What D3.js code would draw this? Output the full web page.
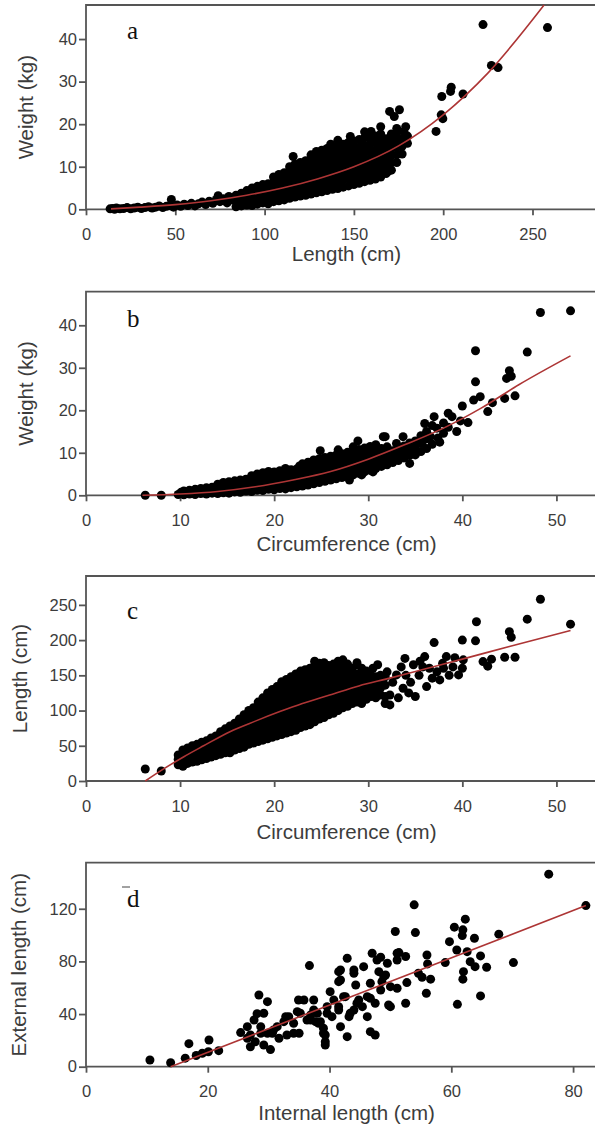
<!DOCTYPE html>
<html>
<head>
<meta charset="utf-8">
<script src="https://cdn.jsdelivr.net/npm/d3@7"></script>
<style>
  body { margin: 0; background: #fff; }
  svg { display: block; }
  text { font-family: "Liberation Sans", Arial, sans-serif; }
</style>
</head>
<body>
<div id="chart"></div>
<script>
// Panel a: length (cm) vs weight (kg)
// dense core, read column by column: [length, [weights...]]
const lengthWeightCols = [
  [84,[0.6,2.0,3.3]],[87,[0.8,2.4,3.8]],[90,[1.0,2.6,4.4]],[93,[0.9,2.3,3.7,5.0]],
  [96,[1.2,2.6,4.0,5.4]],[99,[1.5,2.9,4.3,5.8]],[102,[1.3,2.8,4.4,6.0]],[105,[1.8,3.2,4.8,6.4,7.6]],
  [108,[2.0,3.5,5.0,6.6,8.2]],[111,[2.2,3.7,5.3,6.9,8.6]],[114,[2.6,4.1,5.7,7.3,8.9,10.0]],
  [117,[2.9,4.4,6.0,7.6,9.2,10.6]],[120,[3.1,4.7,6.3,7.9,9.5,11.0]],[123,[3.3,4.9,6.5,8.1,9.7,11.4]],
  [126,[3.6,5.2,6.8,8.4,10.0,11.7,12.8]],[129,[3.9,5.5,7.1,8.7,10.3,11.9,13.6]],
  [132,[4.1,5.7,7.4,9.0,10.6,12.3,13.9]],[135,[4.4,6.0,7.7,9.3,11.0,12.6,14.3]],
  [138,[4.7,6.3,8.0,9.6,11.3,13.0,14.6]],[141,[4.9,6.6,8.3,10.0,11.6,13.3,15.0,16.2]],
  [144,[5.2,6.9,8.6,10.3,12.0,13.6,15.3]],[147,[5.5,7.2,8.9,10.6,12.3,14.0,15.7]],
  [150,[5.8,7.5,9.2,10.9,12.6,14.3,16.0]],[153,[6.1,7.8,9.5,11.2,12.9,14.6,16.4]],
  [156,[6.5,8.2,9.9,11.6,13.3,15.0,16.8,18.2]],[159,[6.8,8.5,10.2,11.9,13.6,15.3,17.0]],
  [162,[7.1,8.8,10.5,12.2,13.9,15.6,17.2]],[165,[7.6,9.2,10.9,12.6,14.3,16.0,17.7,19.4]],
  [168,[8.4,10.0,11.7,13.4,15.1,16.6]],[171,[9.2,10.9,12.6,14.3,16.0,17.7]],
  [174,[11.0,12.8,14.5,16.2,17.9,19.0]],[177,[13.0,14.8,16.5]],[180,[15.5,17.2]]
];
// small fish band and outliers
const lengthWeightPoints = [
  [13.5,0.1],[15,0.2],[16,0],[17,0.3],[19,0.1],[21,0.2],[23,0.4],[25,0.1],[27,0.3],[29,0.5],
  [31,0.2],[33,0.4],[35,0.6],[37,0.3],[39,0.5],[41,0.8],[43,0.4],[45,0.7],[47,0.9],[47.8,2.3],
  [49,0.5],[51,1.0],[53,0.7],[55,1.2],[57,0.9],[59,1.4],[61,0.8],[63,1.3],[65,1.7],[67,1.1],
  [69,1.9],[71,1.4],[73,2.3],[74,3.2],[75,1.8],[77,2.5],[79,1.5],[80,3.0],[82,2.2],
  [116,12.4],[137,15.3],[148,17.1],[159.6,18.3],[157.7,8.5],[168.9,8.8],[170,23.0],[172.6,21.8],
  [175.5,23.4],[178,18.3],[179,19.4],
  [196,18.3],[199.8,21.3],[198.9,22.2],[199.2,26.5],[204.5,28.7],[204.1,27.7],[211.1,27.1],[222.3,43.4],
  [227,33.8],[230.7,33.3],[258.4,42.7]
];
const fitLengthWeight = [
  [14,0.1],[30,0.5],[50,1.1],[70,2.0],[90,3.3],[110,5.0],[130,7.2],[150,10.0],[175,14.9],[200,22.2],[225,32],[256.5,48]
];

// Panel b: circumference (cm) vs weight (kg)
const circWeightCols = [
  [9.8,[0.2]],[10.1,[0.7]],[10.4,[0.1,1.0]],[11,[0.3,1.2]],[11.6,[0.2,1.4]],[12.2,[0.4,1.6]],[12.8,[0.3,1.8]],
  [13.4,[0.5,1.9]],[14,[0.4,1.7,2.6]],[14.6,[0.6,2.0,3.0]],[15.2,[0.5,1.9,3.2]],[15.8,[0.8,2.2,3.4]],
  [16.4,[0.7,2.1,3.6]],[17,[1.0,2.4,3.8]],[17.6,[0.9,2.3,3.7,4.6]],[18.2,[1.2,2.6,4.0,5.0]],
  [18.8,[1.1,2.5,3.9,5.3]],[19.4,[1.4,2.8,4.2,5.6]],[20,[1.3,2.7,4.1,5.5]],[20.6,[1.6,3.0,4.4,5.8]],
  [21.2,[1.5,2.9,4.3,5.7,6.3]],[21.8,[1.8,3.2,4.6,6.0]],[22.4,[2.0,3.4,4.8,6.2]],[22.7,[6.9]],
  [23,[2.2,3.6,5.0,6.4,7.4]],[23.6,[2.4,3.8,5.2,6.6,7.8]],[24.2,[2.7,4.1,5.5,6.9,8.3]],
  [24.8,[3.0,4.4,5.8,7.2,8.6]],[25.4,[3.3,4.7,6.1,7.5,8.9]],[26,[3.6,5.0,6.4,7.8,9.2]],
  [26.6,[3.9,5.3,6.7,8.1,9.5]],[27.2,[4.2,5.6,7.0,8.4,9.8]],[27.8,[4.5,5.9,7.3,8.7,10.1]],
  [28.4,[4.8,6.2,7.6,9.0,10.4,11.4]],[29,[5.2,6.6,8.0,9.4,10.8]],[29.6,[5.5,6.9,8.3,9.7,11.1]],
  [30.2,[5.9,7.3,8.7,10.1,11.5]],[30.8,[6.3,7.7,9.1,10.5,11.9]],[31.4,[6.8,8.2,9.6,11.0]],
  [32,[7.2,8.6,10.0,11.4]],[32.6,[7.7,9.1,10.5]],[33.2,[8.2,9.6,11.0]],[33.8,[8.8,10.2,11.6]],
  [34.4,[7.5,9.4,10.8,12.3]],[35,[9.5,11.2,12.8]],[35.6,[10.3,14.0]],[36.2,[11.0,13.3,15.0]],
  [36.8,[12.0,16.4]],[37.4,[13.5]]
];
const circWeightPoints = [
  [6.3,0],[8,0],[25.3,3.5],[27.3,4.4],[28,3.6],[29.3,4.8],[30.5,5.5],
  [24.9,10.5],[26.8,10.7],[28.9,12.8],[31.6,13.8],[31.8,13.8],[33,12.2],[33.7,13.8],
  [35.7,12.2],[36,16.9],[36.6,13.8],[37,18.5],[37.3,15.8],[37.6,12.5],[38,14.6],[38,17.0],
  [38.5,19.3],[38.5,16.0],[38.9,18.5],[39.4,15.0],[39.8,17.5],[40,21],[40.6,17.1],[41.2,22.4],
  [41.4,34],[41.4,26.7],[41.9,23.2],[42.7,19.7],[43.2,21.8],[44.5,22.8],[44.7,27.5],[45,29.3],
  [45.2,28],[45.6,23.4],[46.9,33.7],[48.3,43],[51.5,43.4]
];
const fitCircWeight = [
  [6,0],[10,0.3],[14,0.9],[18,2.0],[22,3.6],[26,5.6],[30,8.5],[34,12],[38,15.8],[42,20.5],[46,26],[51.5,32.8]
];

// Panel c: circumference (cm) vs length (cm)
const circLengthCols = [
  [9.8,[23,31,37]],[10.3,[21,29,37,44]],[10.8,[25,33,41,47]],[11.3,[27,35,43,50]],[11.8,[28,36,44,52]],
  [12.3,[30,38,46,55]],[12.8,[32,40,48,57]],[13.3,[34,42,51,61]],[13.8,[36,45,54,64]],
  [14.3,[38,47,56,65,70]],[14.8,[40,49,58,67,74]],[15.3,[40,50,60,70,78]],[15.8,[44,53,62,72,82]],
  [16.3,[46,55,64,73,82,88]],[16.8,[48,57,66,76,86,94]],[17.3,[52,61,70,80,90,100]],
  [17.8,[54,63,73,83,93,104]],[18.3,[56,65,75,85,95,105,112]],[18.8,[58,67,77,87,97,108,118]],
  [19.3,[60,70,80,90,100,110,120,125]],[19.8,[62,72,82,92,102,112,122,130]],
  [20.3,[64,74,84,94,104,114,124,134]],[20.8,[66,76,86,96,106,116,126,136,141]],
  [21.3,[68,78,88,98,108,118,128,138,144]],[21.8,[70,80,90,100,110,120,130,140,148]],
  [22.3,[72,82,92,102,112,122,132,142,152]],[22.8,[76,86,96,106,116,126,136,146,156]],
  [23.3,[78,88,98,108,118,128,138,148,158]],[23.8,[80,90,100,110,120,130,140,150,160]],
  [24.3,[84,94,104,114,124,134,144,154,164,170]],[24.8,[88,98,108,118,128,138,148,158,167]],
  [25.3,[90,100,110,120,130,140,150,160,168]],[25.8,[94,104,114,124,134,144,154,164]],
  [26.3,[96,106,116,126,136,146,156,166]],[26.8,[100,110,120,130,140,150,160,170]],
  [27.3,[104,114,124,134,144,154,164,172]],[27.8,[106,116,126,136,146,156,166]],
  [28.3,[110,120,130,140,150,160]],[28.8,[112,122,132,142,152,165,168]],
  [29.3,[110,120,130,140,150,160]],[29.8,[116,126,136,146,156]],[30.3,[120,130,140,150]],
  [30.8,[118,128,138,148]],[31.3,[122,132,143,150]],[31.8,[110,120,136,148]],[32.3,[108,122]]
];
const circLengthPoints = [
  [6.3,17],[8,14.2],
  [30.5,160],[31,165],[31.5,138],[32,155],[32.6,140],[33.2,118],[34,150],[34.3,125],[34.5,140],[34.8,165],
  [35.4,150],[35.5,170],[36.5,160],[36.8,146],[38,160],[38.6,150],[39,162],[39.2,175],
  [33,150.6],[33.5,162],[33.7,131.7],[33.9,174],[35,120],[35.8,162],[36,176.6],[36.2,134],[37,196.5],[37.3,155],
  [37.6,143.5],[37.9,167],[38.3,176.6],[39.6,150.6],[40,160],[40,200],[40.1,172],[41.4,199],[41.5,226],[42.2,169.5],
  [42.7,163],[43.1,173],[44.5,175.7],[45,212],[45.2,204],[45.6,175.7],[46.9,229.7],[48.3,258],[51.5,222.6]
];
const fitCircLength = [
  [6.3,0],[8,15],[10.4,34.5],[12.5,50],[15.3,70],[18,85],[20.6,98.5],[23,110],[25.9,122],[29,135],
  [32.3,146],[36,159],[40,173],[45,191],[51.5,213.5]
];

// Panel d: internal length (cm) vs external length (cm)
const internalExternal = [
  [10.5,5.1],[13.9,3],[16.3,6.5],[16.9,17.5],[18.1,8.5],[19.1,10.2],[20.1,11.4],[20.2,20.3],[21.8,12.2],
  [25.4,25.9],[26.5,21.6],[26.5,30.4],[27,15.2],[27,24.1],[27.6,35.5],[27.8,19],[28.1,40.3],[28.4,54.5],[28.7,25.4],
  [28.7,30.4],[29.2,40.6],[29.2,16.5],[29.8,49.4],[29.8,25.4],[30.3,13],[30.6,25.4],[30.8,27.9],[31.4,30.4],[31.7,21.6],
  [32.5,34.2],[32.8,38],[33,24.1],[33.3,38],[34.1,33],[34.1,25.4],[34.7,41.8],[34.9,50.7],[35,25.4],[35.2,40.6],
  [35.8,50.7],[36.3,35.5],[36.7,76.8],[36.9,39.3],[36.9,35.5],[37.4,50.7],[37.4,43.1],[37.7,34.2],[38,40.6],[38.2,33],
  [38.5,34.2],[39,29.2],[39,25.4],[39.3,24.1],[39.3,19],[39.3,16.5],[39.6,45.6],[39.6,40.6],[40.1,57],[40.4,38],
  [40.7,50.7],[41.5,45.6],[41.5,43.1],[41.5,64.6],[41.5,72.2],[41.8,73.5],[41.8,65.9],[41.8,30.4],[42.3,53.2],[42.6,53.2],
  [42.9,82.4],[42.9,22.8],[43.2,38],[43.4,40.6],[44,71],[44,73.5],[44,43.1],[44.3,62.1],[44.5,48.2],[44.8,50.7],
  [45.4,45.6],[45.6,76],[46.2,53.2],[46.2,38],[46.7,26.6],[46.7,63.4],[46.7,52],[47,86.2],[47.5,24.1],[47.5,48.2],
  [47.8,81.1],[48.1,72.2],[48.4,58.3],[48.4,83.2],[48.6,64.6],[48.9,68.4],[49.2,69.7],[49.5,78.6],[49.7,46.9],[50,45.6],
  [50,60.8],[50.8,102.7],[51.1,86.2],[51.1,81.1],[51.1,59.6],[51.4,86.7],[52.5,48.2],[52.5,83.7],[52.7,63.9],[53.9,123],
  [54.1,101.9],[54.6,71],[55.2,68],[55.9,55.8],[56,84.9],[56.1,78.1],[56.6,66.5],[59,79.1],[59.7,95],[60.5,106],
  [60.9,88.7],[61,47.4],[61.8,99.6],[61.9,104],[61.9,66.5],[62,72.2],[62.3,112.1],[62.6,87.4],[63.1,79.8],[63.8,97.6],
  [63.9,76],[64.8,84.2],[64.8,53.8],[65.8,75.6],[67.8,100.7],[70.2,79.1],[76,146.3],[82.1,122.4]
];
const fitInternalExternal = [[13.9,0],[82.1,122.4]];

// tick values
const ticksLength = [0, 50, 100, 150, 200, 250];
const ticksWeight = [0, 10, 20, 30, 40];
const ticksCirc = [0, 10, 20, 30, 40, 50];
const ticksLengthY = [0, 50, 100, 150, 200, 250];
const ticksInternal = [0, 20, 40, 60, 80];
const ticksExternal = [0, 40, 80, 120];

const panelLetters = ['a', 'b', 'c', 'd'];
const xTitles = ['Length (cm)', 'Circumference (cm)', 'Circumference (cm)', 'Internal length (cm)'];
const yTitles = ['Weight (kg)', 'Weight (kg)', 'Length (cm)', 'External length (cm)'];

const W = 595, H = 1129;
const left = 86, right = 595;
const axisColor = '#555', textColor = '#3c3c3c', fitColor = '#ad3535';

// columns -> [x, y] pairs
const unfold = cols => cols.flatMap(c => c[1].map(v => [c[0], v]));

const panels = [
  { data: unfold(lengthWeightCols).concat(lengthWeightPoints), fit: fitLengthWeight,
    xt: ticksLength, yt: ticksWeight,
    xEnd: 285, yEnd: 48, top: 5, bottom: 209.3, yTitleX: 33, xTitleDy: 52, letterDy: 34 },
  { data: unfold(circWeightCols).concat(circWeightPoints), fit: fitCircWeight,
    xt: ticksCirc, yt: ticksWeight,
    xEnd: 54.1, yEnd: 47.9, top: 291.7, bottom: 495.3, yTitleX: 33, xTitleDy: 56, letterDy: 35 },
  { data: unfold(circLengthCols).concat(circLengthPoints), fit: fitCircLength,
    xt: ticksCirc, yt: ticksLengthY,
    xEnd: 54.1, yEnd: 291, top: 576, bottom: 781, yTitleX: 27, xTitleDy: 58, letterDy: 43 },
  { data: internalExternal, fit: fitInternalExternal,
    xt: ticksInternal, yt: ticksExternal,
    xEnd: 83.6, yEnd: 155, top: 862.7, bottom: 1066.7, yTitleX: 26, xTitleDy: 53, letterDy: 44 }
];

const svg = d3.select('#chart')
  .append('svg')
    .attr('width', W)
    .attr('height', H);

panels.forEach((p, i) => {
  const x = d3.scaleLinear().domain([0, p.xEnd]).range([left, right]);
  const y = d3.scaleLinear().domain([0, p.yEnd]).range([p.bottom, p.top]);
  const g = svg.append('g');

  // frame (right side runs off the page)
  g.append('path')
    .attr('d', `M${right + 5},${p.top}H${left}V${p.bottom}H${right + 5}`)
    .attr('fill', 'none')
    .attr('stroke', axisColor)
    .attr('stroke-width', 1.8);

  // X axis
  const xAxis = g.append('g')
    .attr('transform', 'translate(0,' + p.bottom + ')')
    .call(d3.axisBottom(x).tickValues(p.xt).tickSize(6).tickPadding(13).tickFormat(d3.format('d')));
  // Y axis
  const yAxis = g.append('g')
    .attr('transform', 'translate(' + left + ',0)')
    .call(d3.axisLeft(y).tickValues(p.yt).tickSize(7).tickPadding(2).tickFormat(d3.format('d')));

  [xAxis, yAxis].forEach(a => {
    a.select('.domain').remove();
    a.selectAll('line').attr('stroke', axisColor).attr('stroke-width', 1.8);
    a.selectAll('text')
      .attr('fill', textColor)
      .style('font-family', '"Liberation Sans", Arial, sans-serif')
      .style('font-size', '16.5px');
  });

  // axis titles
  g.append('text')
    .attr('x', (left + right) / 2 + 6)
    .attr('y', p.bottom + p.xTitleDy)
    .attr('text-anchor', 'middle')
    .attr('fill', textColor)
    .style('font-size', '20.5px')
    .text(xTitles[i]);

  g.append('text')
    .attr('transform', 'translate(' + p.yTitleX + ',' + ((p.top + p.bottom) / 2) + ') rotate(-90)')
    .attr('text-anchor', 'middle')
    .attr('fill', textColor)
    .style('font-size', '20.5px')
    .text(yTitles[i]);

  // points
  g.append('g').selectAll('circle')
    .data(p.data)
    .enter()
    .append('circle')
      .attr('cx', d => x(d[0]))
      .attr('cy', d => y(d[1]))
      .attr('r', 4.5)
      .attr('fill', '#000');

  // fitted curve
  const line = d3.line()
    .x(d => x(d[0]))
    .y(d => y(d[1]))
    .curve(d3.curveMonotoneX);
  g.append('path')
    .datum(p.fit)
    .attr('d', line)
    .attr('fill', 'none')
    .attr('stroke', fitColor)
    .attr('stroke-width', 1.6);

  // panel letter
  g.append('text')
    .attr('x', 127)
    .attr('y', p.top + p.letterDy)
    .attr('fill', '#111')
    .style('font-family', '"Liberation Serif", "Times New Roman", serif')
    .style('font-size', '25px')
    .text(panelLetters[i]);
});

// small stray mark above "d"
svg.append('line')
  .attr('x1', 122).attr('x2', 130)
  .attr('y1', 887).attr('y2', 887)
  .attr('stroke', '#444')
  .attr('stroke-width', 1);
</script>
</body>
</html>
